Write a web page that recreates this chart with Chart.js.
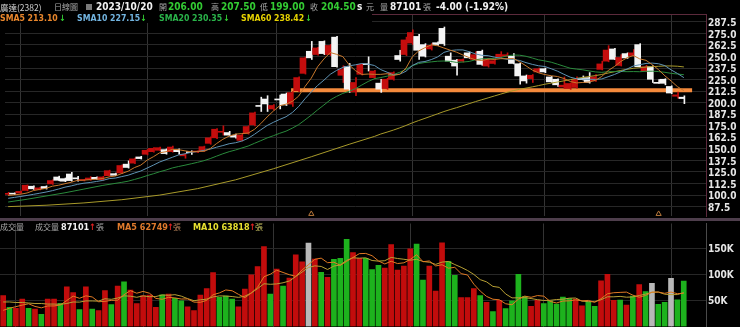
<!DOCTYPE html>
<html><head><meta charset="utf-8">
<script src="https://cdn.jsdelivr.net/npm/chart.js@4.4.0/dist/chart.umd.min.js"></script>
<style>
html,body{margin:0;padding:0;background:#000;}
#wrap{position:relative;width:740px;height:327px;overflow:hidden;background:#000;}
canvas{position:absolute;left:0;}
.t{position:absolute;white-space:nowrap;line-height:12px;z-index:5;}
.n{font-family:"DejaVu Sans Condensed","DejaVu Sans",sans-serif;font-weight:bold;font-size:10px;}
.s{font-size:8.7px;}
.v{font-size:9px;}
.c{font-family:"Noto Sans CJK TC",sans-serif;font-size:8px;color:#a8a8a8;}
.w{color:#f2f2f2;} .g{color:#33cc33;}
</style></head>
<body><div id="wrap">
<canvas id="pc" width="740" height="221" style="top:0"></canvas>
<canvas id="vc" width="740" height="108" style="top:221px"></canvas>
<div style="position:absolute;left:0;top:14px;width:706px;height:1px;background:#5c2a3c;z-index:2"></div>
<div style="position:absolute;left:0;top:218px;width:740px;height:3px;background:#4e3e4c;z-index:2"></div>
<div style="position:absolute;left:0;top:12px;width:372px;height:11px;background:#000;z-index:3"></div>
<!-- row 1 -->
<span class="t c" style="left:0;top:1px;color:#cfcfcf;font-size:8.5px">廣達(2382)</span>
<span class="t c" style="left:54px;top:1px">日線圖</span>
<div style="position:absolute;left:86px;top:4px;width:6px;height:6px;background:#7a7a7a;z-index:5"></div>
<span class="t n w" style="left:96px;top:1px">2023/10/20</span>
<span class="t c" style="left:159px;top:1px">開</span><span class="t n g" style="left:168px;top:1px">206.00</span>
<span class="t c" style="left:211px;top:1px">高</span><span class="t n g" style="left:221px;top:1px">207.50</span>
<span class="t c" style="left:260px;top:1px">低</span><span class="t n g" style="left:270px;top:1px">199.00</span>
<span class="t c" style="left:310px;top:1px">收</span><span class="t n g" style="left:321px;top:1px">204.50</span>
<span class="t n w" style="left:357px;top:1px">s</span>
<span class="t c" style="left:366px;top:1px">元</span>
<span class="t c" style="left:380px;top:1px">量</span>
<span class="t n w" style="left:390px;top:1px">87101</span>
<span class="t c" style="left:423px;top:1px">張</span>
<span class="t n w" style="left:436px;top:1px">-4.00 (-1.92%)</span>
<!-- row 2 -->
<span class="t n s" style="left:0;top:12px;color:#e8862c">SMA5 213.10</span><span class="t n s g" style="left:59px;top:12px">↓</span>
<span class="t n s" style="left:77px;top:12px;color:#72b4e0">SMA10 227.15</span><span class="t n s g" style="left:140px;top:12px">↓</span>
<span class="t n s" style="left:159px;top:12px;color:#2ab34a">SMA20 230.35</span><span class="t n s g" style="left:223px;top:12px">↓</span>
<span class="t n s" style="left:241px;top:12px;color:#e6d200">SMA60 238.42</span><span class="t n s g" style="left:305px;top:12px">↓</span>
<!-- volume header -->
<span class="t c" style="left:0;top:221px">成交量</span>
<span class="t c" style="left:35px;top:221px">成交量</span>
<span class="t n v w" style="left:61px;top:221px">87101</span><span class="t n v" style="left:89px;top:221px;color:#e02020">↑</span>
<span class="t c" style="left:96px;top:221px">張</span>
<span class="t n v" style="left:117px;top:221px;color:#e07a2c">MA5 62749</span><span class="t n v" style="left:167px;top:221px;color:#e02020">↑</span>
<span class="t c" style="left:173px;top:221px;color:#b8825a">張</span>
<span class="t n v" style="left:193px;top:221px;color:#e8e030">MA10 63818</span><span class="t n v" style="left:249px;top:221px;color:#e02020">↑</span>
<span class="t c" style="left:255px;top:221px;color:#c8c060">張</span>
</div>
<script>
// ---- data (index 0 = mid-May 2023, last = 2023/10/20) ----
const opens = [100.8,102,102.2,105,109.6,106,109.3,112.1,119.6,117.8,
122.8,118,115.8,116.7,119.2,116.7,121,123.2,123.9,133.5,
134.6,141.3,144.2,147,148.5,149.2,147,149.2,142.5,146.5,
146.6,147.8,156,162,168,167.7,164.5,159.2,166.6,176,
196.5,204,193.3,203.5,209.4,198.5,213,231.8,255.7,252.2,
266.4,252.2,271,229.7,239,211.9,230.8,241.8,227.2,221.2,
215.4,225.4,251.1,252.2,264.6,271.8,262.9,258.2,265,280.5,
250.4,246.1,245,254,246.8,255.7,239.7,242.5,249.7,250.4,
250.4,242.2,229,226.1,233.3,236.8,227.9,225.4,217,215.4,
216.5,226.5,227.2,223.6,236.1,245,258.2,240.4,253.2,251.1,
262.9,234.3,239,221.6,225.4,217.6,207,206];
const highs = [103,102.5,104.5,111,110,108.5,110,116.5,120.5,118.5,
124.6,120.3,117,120,119.8,120.3,127,123.8,132.8,137,
140,142,149.5,151.5,152,150,153,150,145,148,
148,153,163,172,175,169,166,166,175,190,
206,207.6,198,208.3,210.5,212,228,249.5,266.4,260,
267,263,272,240,242.5,227.2,242.5,249.7,235,225.4,
226.5,233.5,256.8,271,279,274,264,264,266,282,
254,247,247.5,255,255,257,248,247.5,255.3,254,
253.2,243,230,230.5,237.5,237.5,228.5,226,227.9,221.5,
228,229,232.6,230.5,245,261.8,259,252,254,257.5,
264,240.5,240,225,226,218.3,211.5,207.5];
const lows = [100,100.5,101.8,104.5,106,105.5,106.5,111.5,115.5,114.5,
115,115,115.3,116,117,116.2,120.5,121,123.3,129.2,
134,139,143.5,146.5,148,144.3,146.5,144.2,139.9,144,
146,147.2,155,161,165,164,161.5,158.5,166,175,
190.5,190.5,192,193.3,197,196,212,231,246.8,251.5,
252,251,238.5,221.9,211.2,207.6,230,234.3,226,211.2,
214.5,224.5,245,251,263,246.8,249.5,257,262,262,
243.3,229.7,244,248,246,240.5,238.5,241.8,249,249.8,
242,220.1,221.2,221.9,232.5,232.5,222,217.6,215.4,214.5,
215.8,224.5,221.2,223,235.5,244.3,246.5,239.7,248,250.4,
238.5,233.5,221.9,220.8,219.4,209.8,205,199];
const closes = [101.8,101,104,110.7,106.8,107.8,107.1,115.7,116,115,
115.7,117.6,116.5,118.5,117.5,119.6,126.4,121.4,132,129.9,
139.2,139.5,148.5,150.6,151.3,144.9,152,147,144.2,146,
147.3,152.4,162,171.3,169,164.9,162.8,164.9,174.2,189,
196,198.7,197,203,197.6,211,227.2,248.6,248.6,259.3,
253.2,262,239,236,214.7,221.9,241.5,241.2,234.3,214.7,
225.4,232.6,246.8,268,276,256.8,250.4,262,263,264,
245,239.7,246.8,248.6,252,241.5,246.8,245.5,252.5,252,
242.5,229,223.6,229.7,236.8,233.3,222.6,219.4,219,220.8,
225.5,225,221.9,228,242,257,247,249,248.5,254,
239,239,225.4,221,221,210.5,208.5,204.5];
// volume in thousands of lots (張)
const volK = [59.0,36.6,34.7,52.7,34.7,33.5,23.2,52.7,52.7,44.3,
76.2,64.8,32.2,76.2,33.5,30.3,68.6,41.8,77.6,85.8,
69.9,43.7,59.0,60.3,36.6,60.9,62.3,53.8,49.4,37.9,
30.3,60.3,72.4,103.1,55.7,58.4,52.7,37.9,71.8,99.2,
114.6,152.9,62.3,110.2,77.6,92.9,137.5,124.1,160.0,129.3,
103.7,94.1,128.5,130.5,166.9,141.4,130.5,130.5,108.8,117.1,
112.1,156.7,108.2,115.9,149.0,158.0,89.1,115.9,68.0,160.5,
124.7,97.9,55.2,55.2,72.4,59.0,46.2,28.4,50.0,34.1,
49.4,99.8,57.7,38.5,50.8,43.7,49.4,43.1,56.5,53.3,
52.7,39.8,47.5,38.5,87.7,99.8,50.0,50.8,41.2,58.4,
80.1,66.7,82.6,42.3,46.2,92.1,51.3,87.1];
// volume bar colour: r = up, g = down, w = unchanged
const volDir = "rgrrgrgrrgrrgrgrrgrgrrrrrgrggrrrrrgggrrrrrgrgrrrwrgrgggrrgggrrrrrggrrrggrrrgrgrggggrrgggggrrggrrrgrgrgwggwggg";
// moving-average values before a full window exists at the left edge
const ma5LeadIdx = [0,1,2,3], ma5Lead = [99.5,100.3,101,102.3];
const ma10LeadIdx = [0,1,2,3,4,5,6,7,8], ma10Lead = [96.5,97.5,98.5,99.6,100.8,102,103.3,104.8,106.6];
const ma20LeadIdx = [0,3,6,9,12,15,18], ma20Lead = [92.5,95.5,99,102.5,106.5,110.5,113.8];
const ma60LeadIdx = [0,6,12,18,24,30,36,42,48,54,58], ma60Lead = [87.5,89,91.5,95,100,107,116.5,128.5,141.5,155,163.5];
const vma5LeadIdx = [0,1,2,3], vma5Lead = [31,35,38,41];
const vma10LeadIdx = [0,1,2,3,4,5,6,7,8], vma10Lead = [47,47,46,46,45,44,44,43,43];
const priceTicks = [87.5,100,112.5,125,137.5,150,162.5,175,187.5,200,212.5,225,237.5,250,262.5,275,287.5];
const volTicks = [50,100,150];
const monthIdx = [12,32,53,75,95];   // first trading day of Jun..Oct
const supportLevel = 213.6, supportFrom = 44.8, supportTo = 108.3;
const markerIdx = [48,103];

// ---- helpers ----
const RED = '#c40d0d', WHITE = '#f4f4f4';
function movingAvg(arr, n, leadIdx, lead){
  const pts = leadIdx.map((x,j)=>({x:x, y:lead[j]}));
  for (let i=n-1;i<arr.length;i++){ let s=0; for(let k=i-n+1;k<=i;k++) s+=arr[k]; pts.push({x:i,y:s/n}); }
  return pts;
}
const idx = closes.map((_,i)=>i);
const candleCol = idx.map(i=> closes[i]>=opens[i] ? RED : WHITE);
const bodies = idx.map(i=>({x:i, y:[Math.min(opens[i],closes[i]), Math.max(opens[i],closes[i])]}));
const wicks = idx.map(i=>({x:i, y:[lows[i], highs[i]]}));
const volCol = idx.map(i=> volDir[i]==='r' ? '#c20c0c' : volDir[i]==='g' ? '#1db21d' : '#b8b8b8');
// tiny lineHeight so the axis labels do not reserve extra space above/below the plot
const FONT = {family:'"DejaVu Sans Condensed","DejaVu Sans",sans-serif', weight:'bold', size:10, lineHeight:0.1};

const mkX = ()=>({
  type:'linear', min:-0.5, max:110.5, offset:false,
  afterBuildTicks:s=>{ s.ticks = monthIdx.map(v=>({value:v})); },
  ticks:{display:false}, grid:{color:'#333333', drawTicks:false}, border:{display:false},
  afterFit:s=>{ s.height = 0; }
});
const lineDs = (data,color,order,w)=>({type:'line', data, borderColor:color, borderWidth:w||1, pointRadius:0, tension:0, order});

new Chart(document.getElementById('pc'), {
  type:'bar',
  data:{datasets:[
    {type:'line', data:[{x:supportFrom,y:supportLevel},{x:supportTo,y:supportLevel}], borderColor:'#f58a3c', borderWidth:4, pointRadius:0, order:10},
    {type:'bar', data:wicks, backgroundColor:candleCol, barThickness:1, borderWidth:0, order:8, minBarLength:1},
    {type:'bar', data:bodies, backgroundColor:candleCol, barThickness:5, borderWidth:0, order:7, minBarLength:1},
    lineDs(movingAvg(closes,60,ma60LeadIdx,ma60Lead),'#a89a2a',4),
    lineDs(movingAvg(closes,20,ma20LeadIdx,ma20Lead),'#2a8a3c',3),
    lineDs(movingAvg(closes,10,ma10LeadIdx,ma10Lead),'#5f93b4',2),
    lineDs(movingAvg(closes,5,ma5LeadIdx,ma5Lead),'#c8782c',1),
    {type:'line', data:markerIdx.map(i=>({x:i,y:79.6})), showLine:false, pointStyle:'triangle', pointRadius:3, borderColor:'#b8783a', backgroundColor:'rgba(0,0,0,0)', borderWidth:1, order:0, clip:false}
  ]},
  options:{
    responsive:false, animation:false, events:[],
    plugins:{legend:{display:false}, tooltip:{enabled:false}},
    layout:{padding:{top:14,bottom:1,left:0,right:0}},
    scales:{
      x:mkX(),
      y:{position:'right', min:77.35, max:296.06,
         afterBuildTicks:s=>{ s.ticks = priceTicks.map(v=>({value:v})); },
         ticks:{color:'#e6e6e6', font:FONT, padding:2, labelOffset:1.5, autoSkip:false, callback:v=>Number(v).toFixed(1)},
         grid:{color:'#272727', drawTicks:false}, border:{color:'#5c2a3c'},
         afterFit:s=>{ s.width = 34; }}
    }
  }
});

new Chart(document.getElementById('vc'), {
  type:'bar',
  data:{datasets:[
    {type:'bar', data:idx.map(i=>({x:i,y:volK[i]})), backgroundColor:volCol, barThickness:5, borderWidth:0, order:5},
    lineDs(movingAvg(volK,10,vma10LeadIdx,vma10Lead),'#b8a034',2),
    lineDs(movingAvg(volK,5,vma5LeadIdx,vma5Lead),'#e07a24',1)
  ]},
  options:{
    responsive:false, animation:false, events:[],
    plugins:{legend:{display:false}, tooltip:{enabled:false}},
    layout:{padding:{top:0,bottom:1,left:0,right:0}},
    scales:{
      x:mkX(),
      y:{position:'right', min:0, max:197.3,
         afterBuildTicks:s=>{ s.ticks = volTicks.map(v=>({value:v})); },
         ticks:{color:'#e6e6e6', font:FONT, padding:2, labelOffset:1.5, autoSkip:false, callback:v=>v+'K'},
         grid:{color:'#272727', drawTicks:false}, border:{color:'#4a4a4a'},
         afterFit:s=>{ s.width = 34; }}
    }
  }
});
</script>
</body></html>
